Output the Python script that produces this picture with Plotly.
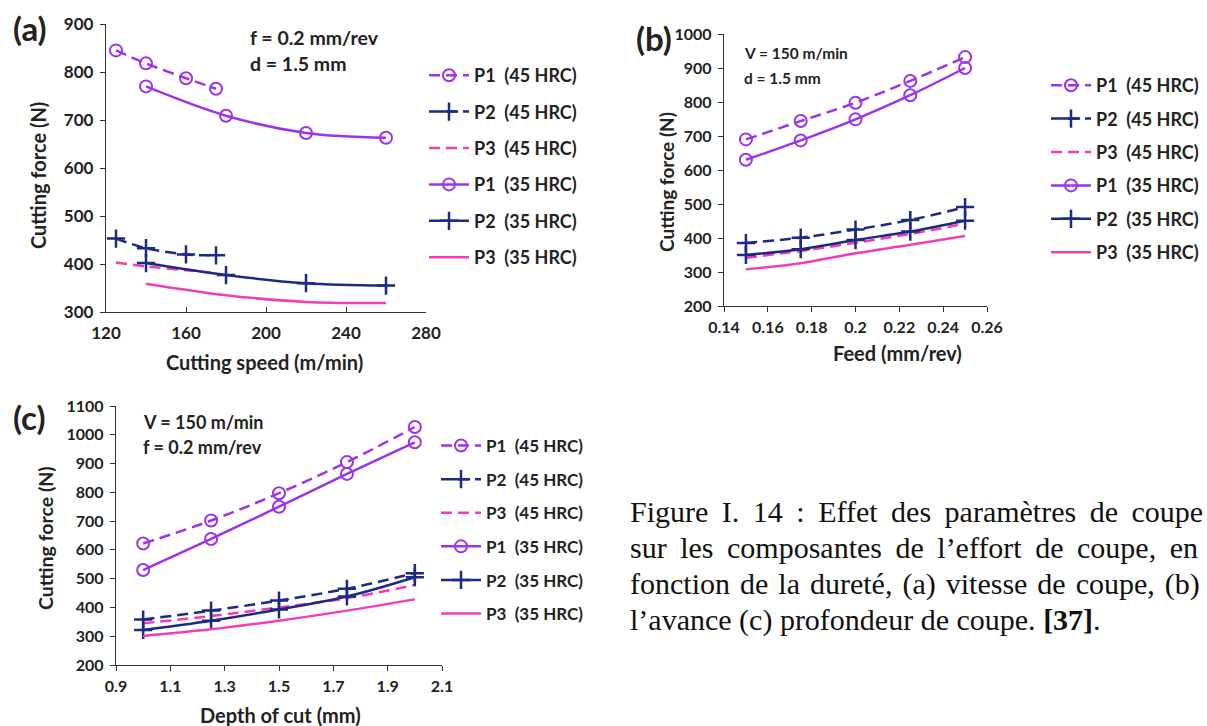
import plotly.graph_objects as go

W, H = 1207, 726


def px(x):
    return x / W


def py(y):
    return 1 - y / H


# ---------------- data ----------------
series_names = ["P1  (45 HRC)", "P2  (45 HRC)", "P3  (45 HRC)",
                "P1  (35 HRC)", "P2  (35 HRC)", "P3  (35 HRC)"]

# (a) cutting speed
speed_45 = [125, 140, 160, 175]
speed_35 = [140, 180, 220, 260]
a_p1_45 = [845, 818, 787, 765]
a_p2_45 = [453, 433, 420, 418]
a_p3_45 = [403, 395, 387, 381]
a_p1_35 = [770, 709, 673, 663]
a_p2_35 = [402, 377, 360, 355]
a_p3_35 = [359, 335, 321, 319]

# (b) feed
feed = [0.15, 0.175, 0.2, 0.225, 0.25]
b_p1_45 = [690, 744, 798, 862, 932]
b_p2_45 = [385, 401, 425, 453, 491]
b_p3_45 = [342, 362, 386, 412, 442]
b_p1_35 = [630, 687, 749, 820, 900]
b_p2_35 = [350, 367, 394, 419, 451]
b_p3_35 = [308, 326, 355, 380, 406]

# (c) depth of cut
depth = [1.0, 1.25, 1.5, 1.75, 2.0]
c_p1_45 = [622, 702, 797, 905, 1027]
c_p2_45 = [358, 389, 424, 465, 519]
c_p3_45 = [345, 370, 400, 432, 478]
c_p1_35 = [530, 638, 750, 864, 974]
c_p2_35 = [322, 354, 393, 438, 505]
c_p3_35 = [301, 324, 354, 389, 428]

PURPLE = "#9a33ee"
NAVY = "#1c2a86"
PINK = "#f23db4"
TXT = "#222222"
FONT = "Lato"

fig = go.Figure()


def add_panel(xs45, xs35, ys, xa, ya, leg):
    colors = [PURPLE, NAVY, PINK]
    for k in range(6):
        is45 = k < 3
        p = k % 3
        xs = xs45 if is45 else xs35
        marker = None
        mode = "lines"
        if p == 0:
            mode = "lines+markers"
            marker = dict(symbol="circle-open", size=12, color=colors[p],
                          line=dict(width=2, color=colors[p]))
        elif p == 1:
            mode = "lines+markers"
            marker = dict(symbol="cross-thin-open", size=13, color=colors[p],
                          line=dict(width=2.5, color=colors[p]))
        fig.add_trace(go.Scatter(
            x=xs, y=ys[k], mode=mode, name=series_names[k],
            line=dict(color=colors[p], width=2.5, shape="spline",
                      dash="11px,6px" if is45 else "solid"),
            marker=marker, xaxis=xa, yaxis=ya, legend=leg,
            legendgroup=f"{leg}_{k}", showlegend=True))


add_panel(speed_45, speed_35,
          [a_p1_45, a_p2_45, a_p3_45, a_p1_35, a_p2_35, a_p3_35], "x", "y", "legend")
add_panel(feed, feed,
          [b_p1_45, b_p2_45, b_p3_45, b_p1_35, b_p2_35, b_p3_35], "x2", "y2", "legend2")
add_panel(depth, depth,
          [c_p1_45, c_p2_45, c_p3_45, c_p1_35, c_p2_35, c_p3_35], "x3", "y3", "legend3")


def tf(size):
    return dict(family=FONT, size=size, color=TXT, weight="bold")


axis_common = dict(showgrid=False, zeroline=False, showline=True, linecolor="#333333",
                   linewidth=1.3, tickcolor="#333333", ticklen=5, tickwidth=1.3,
                   automargin=False, mirror=False)

fig.update_layout(
    xaxis=dict(domain=[px(106), px(426)], range=[120, 280], dtick=40, tick0=120,
               ticks="inside", anchor="y", ticklabelstandoff=5, tickfont=tf(17), **axis_common),
    yaxis=dict(domain=[py(312), py(24)], range=[300, 900], dtick=100,
               ticks="outside", anchor="x", ticklabelstandoff=3, tickfont=tf(17), **axis_common),
    xaxis2=dict(domain=[px(724), px(987)], range=[0.14, 0.26], ticks="outside", anchor="y2",
                ticklabelstandoff=2,
                tickvals=[0.14, 0.16, 0.18, 0.2, 0.22, 0.24, 0.26],
                ticktext=["0.14", "0.16", "0.18", "0.2", "0.22", "0.24", "0.26"],
                tickfont=tf(16), **axis_common),
    yaxis2=dict(domain=[py(306), py(34)], range=[200, 1000], dtick=100,
                ticks="outside", anchor="x2", ticklabelstandoff=3, tickfont=tf(16), **axis_common),
    xaxis3=dict(domain=[px(116), px(442)], range=[0.9, 2.1], ticks="outside", anchor="y3",
                ticklabelstandoff=2,
                tickvals=[0.9, 1.1, 1.3, 1.5, 1.7, 1.9, 2.1],
                ticktext=["0.9", "1.1", "1.3", "1.5", "1.7", "1.9", "2.1"],
                tickfont=tf(16), **axis_common),
    yaxis3=dict(domain=[py(665), py(406)], range=[200, 1100], dtick=100,
                ticks="outside", anchor="x3", ticklabelstandoff=3, tickfont=tf(16), **axis_common),
)

leg_common = dict(bgcolor="rgba(0,0,0,0)", borderwidth=0,
                  xanchor="left", yanchor="top", itemwidth=40, traceorder="grouped",
                  xref="paper", yref="paper")
fig.update_layout(
    legend=dict(x=px(424), y=py(57), tracegroupgap=10, font=tf(18), **leg_common),
    legend2=dict(x=px(1046), y=py(67), tracegroupgap=7, font=tf(18), **leg_common),
    legend3=dict(x=px(436), y=py(428), tracegroupgap=8.5, font=tf(17), **leg_common),
)

ann = []


def text(x, y, s, size=16, bold=True, xanchor="left", angle=0, family=FONT):
    ann.append(dict(x=px(x), y=py(y), xref="paper", yref="paper", text=s,
                    showarrow=False, xanchor=xanchor, yanchor="middle", textangle=angle,
                    font=dict(family=family, size=size, color=TXT,
                              weight="bold" if bold else "normal")))


# panel labels
text(11, 28, "(a)", size=33)
text(634, 38, "(b)", size=33)
text(11, 417, "(c)", size=33)
# conditions
text(248, 37, "f = 0.2 mm/rev", size=19.5)
text(248, 63, "d = 1.5 mm", size=19.5)
text(742, 53, "V = 150 m/min", size=15.5)
text(742, 78, "d = 1.5 mm", size=15.5)
text(141, 422, "V = 150 m/min", size=18)
text(141, 447, "f = 0.2 mm/rev", size=18)
# axis titles
text(264, 362, "Cutting speed (m/min)", size=20, xanchor="center")
text(38, 176, "Cutting force (N)", size=20, xanchor="center", angle=-90)
text(897, 353, "Feed (mm/rev)", size=20, xanchor="center")
text(667, 182, "Cutting force (N)", size=19, xanchor="center", angle=-90)
text(280, 715, "Depth of cut (mm)", size=20, xanchor="center")
text(45, 538, "Cutting force (N)", size=19.5, xanchor="center", angle=-90)

# caption (justified look emulated with extra thin spaces between words)
TH = "\u2009"
HA = "\u200a"
caption_lines = [
    ("Figure I. 14 : Effet des paramètres de coupe", TH),
    ("sur les composantes de l’effort de coupe, en", TH),
    ("fonction de la dureté, (a) vitesse de coupe, (b)", HA),
    ("l’avance (c) profondeur de coupe. <b>[37]</b>.", ""),
]
for i, (line, extra) in enumerate(caption_lines):
    words = line.split(" ")
    s = (" " + extra).join(words)
    ann.append(dict(x=px(628), y=py(530 + 36.3 * i), xref="paper", yref="paper",
                    text=s, showarrow=False, xanchor="left", yanchor="bottom",
                    font=dict(family="Liberation Serif", size=30, color="#111111")))

fig.update_layout(
    annotations=ann,
    width=W, height=H,
    margin=dict(l=0, r=0, t=0, b=0),
    paper_bgcolor="white", plot_bgcolor="white",
    showlegend=True,
)

fig.write_html("out.html")
